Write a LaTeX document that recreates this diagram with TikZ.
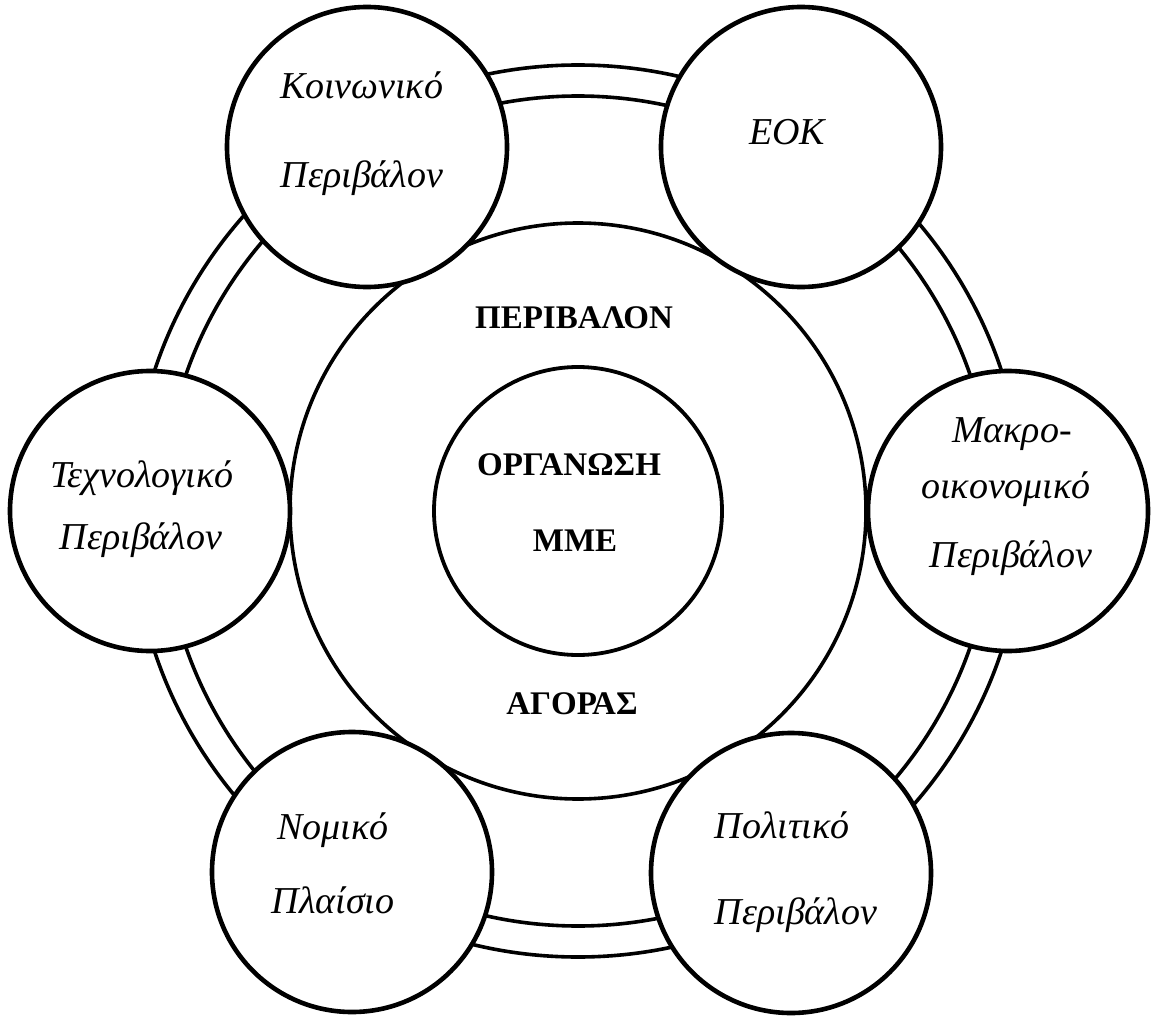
\documentclass[tikz,border=0pt]{standalone}
\usepackage{fontspec}
\setmainfont{Liberation Serif}
\usetikzlibrary{calc}
\tikzset{
  sat/.style={circle,draw,line width=4.6pt,fill=white,minimum size=280pt,inner sep=0pt},
  ringline/.style={line width=3.6pt},
  lab/.style={anchor=base,inner sep=0pt,font=\fontsize{38}{42}\selectfont\itshape},
  core/.style={anchor=base,inner sep=0pt,font=\fontsize{33}{38}\selectfont\bfseries}
}
\begin{document}
\begin{tikzpicture}[x=1pt,y=-1pt]
\useasboundingbox (0,0) rectangle (1153,1016);
\coordinate (ctr) at (578,511);
% ring behind the satellites
\draw[ringline] (ctr) circle[radius=446];
\draw[ringline] (ctr) circle[radius=415];
\draw[line width=3.6pt] (ctr) circle[radius=288];
\draw[line width=3.8pt] (ctr) circle[radius=144];

% satellites
\node[sat] (tech) at (150,511) {};
\node[sat] (koin) at (367,147) {};
\node[sat] (eok) at (801,147) {};
\node[sat] (makro) at (1008,511) {};
\node[sat] (polit) at (791,873) {};
\node[sat] (nomik) at (352,872) {};

\node[lab] (koinA) at (362,99) {Κοινωνικό};
\node[lab] (koinB) at (362,188) {Περιβάλον};
\node[lab] (eokA) at (787,145) {ΕΟΚ};
\node[lab] (techA) at (142,487) {Τεχνολογικό};
\node[lab] (techB) at (141,549) {Περιβάλον};
\node[lab] (makroA) at (1012,442) {Μακρο-};
\node[lab] (makroB) at (1006,498) {οικονομικό};
\node[lab] (makroC) at (1011,567) {Περιβάλον};
\node[lab] (nomikA) at (333,839) {Νομικό};
\node[lab] (nomikB) at (333,913) {Πλαίσιο};
\node[lab] (politA) at (782,838) {Πολιτικό};
\node[lab] (politB) at (796,924) {Περιβάλον};

% centre
\node[core] (env) at (574,328) {ΠΕΡΙΒΑΛΟΝ};
\node[core] (org) at (569,475) {ΟΡΓΑΝΩΣΗ};
\node[core] (mme) at (575,551) {ΜΜΕ};
\node[core] (agora) at (572,714) {ΑΓΟΡΑΣ};
\end{tikzpicture}
\end{document}
